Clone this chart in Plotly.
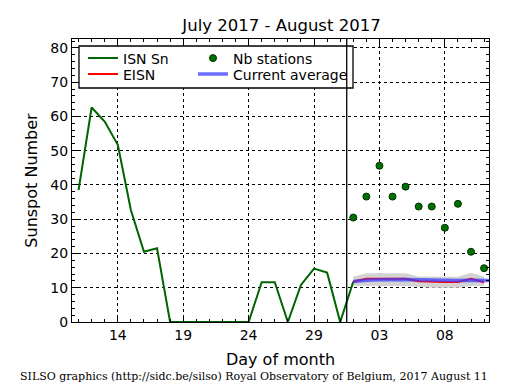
import plotly.graph_objects as go

# ---- data ----
isn_dates = ["2017-07-%02d" % d for d in range(11, 32)] + ["2017-08-01"]
isn_values = [38.5, 62.6, 58.5, 51.7, 32.7, 20.5, 21.5, 0, 0, 0, 0, 0, 0, 0,
              11.6, 11.6, 0, 10.8, 15.6, 14.4, 0, 11.8]

est_dates = ["2017-08-%02d" % d for d in range(1, 12)]
nb_stations = [30.5, 36.6, 45.6, 36.6, 39.5, 33.7, 33.7, 27.5, 34.5, 20.5, 15.7]
eisn = [11.8, 12.6, 12.6, 12.6, 12.6, 11.9, 11.7, 11.7, 11.7, 12.6, 11.6]
eisn_low = [10.6, 10.5, 10.5, 10.5, 10.5, 10.2, 10.0, 10.0, 10.0, 10.5, 10.6]
eisn_high = [13.2, 14.2, 14.2, 14.2, 14.2, 13.3, 13.2, 13.2, 13.2, 14.4, 13.3]

avg_dates = ["2017-08-%02d" % d for d in range(1, 13)]
current_avg = [11.8, 12.2, 12.3, 12.4, 12.4, 12.3, 12.2, 12.2, 12.1, 12.2, 12.1, 12.1]

xtick_vals = ["2017-07-14", "2017-07-19", "2017-07-24", "2017-07-29", "2017-08-03", "2017-08-08"]
xtick_text = ["14", "19", "24", "29", "03", "08"]

FONT = "DejaVu Sans"

fig = go.Figure()

# error band
fig.add_trace(go.Scatter(x=est_dates, y=eisn_low, mode="lines", line=dict(width=0, color="#d3d3d3"),
                         showlegend=False, hoverinfo="skip"))
fig.add_trace(go.Scatter(x=est_dates, y=eisn_high, mode="lines", line=dict(width=0, color="#d3d3d3"),
                         fill="tonexty", fillcolor="#d3d3d3", showlegend=False, hoverinfo="skip"))

fig.add_trace(go.Scatter(x=isn_dates, y=isn_values, mode="lines", name="ISN Sn",
                         line=dict(color="#006400", width=2), legend="legend"))
fig.add_trace(go.Scatter(x=est_dates, y=nb_stations, mode="markers", name="Nb stations",
                         marker=dict(color="#007000", size=7, line=dict(color="#003000", width=1)),
                         legend="legend3"))
fig.add_trace(go.Scatter(x=est_dates, y=eisn, mode="lines", name="EISN",
                         line=dict(color="#ff0000", width=2), legend="legend2"))
fig.add_trace(go.Scatter(x=avg_dates, y=current_avg, mode="lines", name="Current average",
                         line=dict(color="rgba(60,60,255,0.75)", width=3.5), legend="legend4"))

# legend frame
fig.add_shape(type="rect", xref="paper", yref="paper",
              x0=(79 - 72) / 417, x1=(353 - 72) / 417,
              y0=(322 - 88) / 283, y1=(322 - 46) / 283,
              line=dict(color="black", width=1.3), fillcolor="white", layer="above")
fig.add_shape(type="line", x0="2017-07-31 12:00", x1="2017-07-31 12:00", y0=0, y1=1,
              xref="x", yref="paper", line=dict(color="black", width=1.3), layer="above")

axis_common = dict(showline=True, linecolor="black", linewidth=1.3, mirror="allticks",
                   ticks="inside", ticklen=6, tickcolor="black", tickwidth=1,
                   showgrid=True, gridcolor="black", griddash="dot", gridwidth=1,
                   zeroline=False, tickfont=dict(family=FONT, size=14, color="black"))

fig.update_xaxes(type="date", range=["2017-07-10 12:00", "2017-08-11 09:00"],
                 tickmode="array", tickvals=xtick_vals, ticktext=xtick_text,
                 minor=dict(tickmode="linear", tick0="2017-07-01", dtick=86400000,
                            ticklen=3, tickcolor="black", ticks="inside", showgrid=False),
                 title=dict(text="Day of month", font=dict(family=FONT, size=16, color="black"), standoff=11),
                 **axis_common)
fig.update_yaxes(range=[0, 82.6], tickmode="linear", tick0=0, dtick=10,
                 minor=dict(dtick=2, ticklen=3, tickcolor="black", ticks="inside", showgrid=False),
                 title=dict(text="Sunspot Number", font=dict(family=FONT, size=16, color="black"), standoff=8),
                 **axis_common)

legend_common = dict(xanchor="left", yanchor="top", bgcolor="rgba(0,0,0,0)", borderwidth=0,
                     tracegroupgap=0, traceorder="normal",
                     font=dict(family=FONT, size=14, color="black"))


def px_x(p):
    return (p - 72) / 417


def px_y(p):
    return (322 - p) / 283


fig.update_layout(
    width=515, height=390,
    margin=dict(l=72, r=26, t=39, b=68),
    paper_bgcolor="white", plot_bgcolor="white",
    title=dict(text="July 2017 - August 2017", x=px_x(281.5), xref="paper", y=1 - 25.5 / 390, yref="container",
               xanchor="center", yanchor="middle", font=dict(family=FONT, size=16.5, color="black")),
    legend=dict(x=px_x(83), y=px_y(42.5), **legend_common),
    legend2=dict(x=px_x(83), y=px_y(58.5), **legend_common),
    legend3=dict(x=px_x(193), y=px_y(42.5), **legend_common),
    legend4=dict(x=px_x(193), y=px_y(58.5), **legend_common),
    annotations=[dict(text="SILSO graphics (http://sidc.be/silso) Royal Observatory of Belgium, 2017 August 11",
                      xref="paper", yref="paper", x=px_x(18), y=px_y(376),
                      xanchor="left", yanchor="middle", showarrow=False,
                      font=dict(family="DejaVu Serif", size=11, color="black"))],
    showlegend=True,
)

fig.write_html("out.html", config={"displayModeBar": False},
               post_script="document.body.style.margin='0px';")
